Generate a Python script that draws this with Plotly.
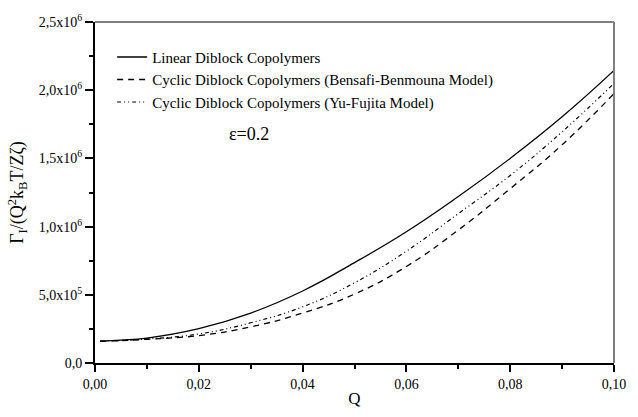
import plotly.graph_objects as go

q = [0.001, 0.005, 0.01, 0.02, 0.03, 0.04, 0.05, 0.06, 0.07, 0.08, 0.09, 0.10]
linear = [1.60e5, 1.68e5, 1.83e5, 2.52e5, 3.66e5, 5.28e5, 7.36e5, 9.62e5, 1.22e6, 1.50e6, 1.805e6, 2.145e6]
bensafi = [1.60e5, 1.64e5, 1.74e5, 2.01e5, 2.65e5, 3.66e5, 5.05e5, 7.08e5, 9.75e5, 1.278e6, 1.60e6, 1.975e6]
yufujita = [1.60e5, 1.65e5, 1.76e5, 2.13e5, 2.95e5, 4.12e5, 5.88e5, 8.20e5, 1.095e6, 1.375e6, 1.695e6, 2.05e6]

names = ["Linear Diblock Copolymers",
         "Cyclic Diblock Copolymers (Bensafi-Benmouna Model)",
         "Cyclic Diblock Copolymers (Yu-Fujita Model)"]

xtick_vals = [0, 0.02, 0.04, 0.06, 0.08, 0.10]
xtick_text = ["0,00", "0,02", "0,04", "0,06", "0,08", "0,10"]
ytick_vals = [0, 5e5, 1e6, 1.5e6, 2e6, 2.5e6]
ytick_text = ["0,0", "5,0x10<sup>5</sup>", "1,0x10<sup>6</sup>", "1,5x10<sup>6</sup>",
              "2,0x10<sup>6</sup>", "2,5x10<sup>6</sup>"]

font = "Liberation Serif"

fig = go.Figure()
fig.add_trace(go.Scatter(x=q, y=linear, name=names[0], mode="lines",
                         line=dict(color="black", width=1.3, shape="spline", smoothing=1.3)))
fig.add_trace(go.Scatter(x=q, y=bensafi, name=names[1], mode="lines",
                         line=dict(color="black", width=1.3, dash="6px,5px",
                                   shape="spline", smoothing=1.3)))
fig.add_trace(go.Scatter(x=q, y=yufujita, name=names[2], mode="lines",
                         line=dict(color="black", width=1.2, dash="4px,3px,1px,3px,1px,3px",
                                   shape="spline", smoothing=1.3)))

fig.add_annotation(x=0.0297, y=1.68e6, text="ε=0.2", showarrow=False,
                   font=dict(family=font, size=18, color="black"))

fig.add_shape(type="line", xref="paper", yref="paper", x0=0, x1=1, y0=1, y1=1,
              line=dict(color="black", width=1.2))
fig.add_shape(type="line", xref="paper", yref="paper", x0=1, x1=1, y0=0, y1=1,
              line=dict(color="#808080", width=2))

fig.update_layout(
    width=638, height=417,
    margin=dict(l=95, r=14, t=21, b=40),
    paper_bgcolor="white", plot_bgcolor="white",
    font=dict(family=font, size=14, color="black"),
    showlegend=True,
    legend=dict(x=0.033, y=0.945, xanchor="left", yanchor="top",
                bgcolor="rgba(0,0,0,0)", font=dict(family=font, size=15),
                tracegroupgap=0, itemwidth=30),
    xaxis=dict(range=[0, 0.10], showgrid=False, zeroline=False,
               showline=True, linecolor="black", linewidth=2,
               ticks="outside", ticklen=7, tickwidth=1.5, tickcolor="black",
               tickvals=xtick_vals, ticktext=xtick_text,
               minor=dict(tickvals=[0.01, 0.03, 0.05, 0.07, 0.09], ticks="outside",
                          ticklen=4, tickwidth=1.5, tickcolor="black"),
               title=dict(text="Q", font=dict(family=font, size=17), standoff=1),
               tickfont=dict(family=font, size=14)),
    yaxis=dict(range=[0, 2.5e6], showgrid=False, zeroline=False,
               showline=True, linecolor="black", linewidth=2,
               ticks="outside", ticklen=8, tickwidth=1.5, tickcolor="black",
               tickvals=ytick_vals, ticktext=ytick_text,
               minor=dict(tickvals=[2.5e5, 7.5e5, 1.25e6, 1.75e6, 2.25e6], ticks="outside",
                          ticklen=4, tickwidth=1.5, tickcolor="black"),
               title=dict(text="Γ<sub>I</sub>/(Q<sup>2</sup>k<sub>B</sub>T/Zζ)",
                          font=dict(family=font, size=18), standoff=10),
               tickfont=dict(family=font, size=14)),
)

fig.write_html("out.html")
